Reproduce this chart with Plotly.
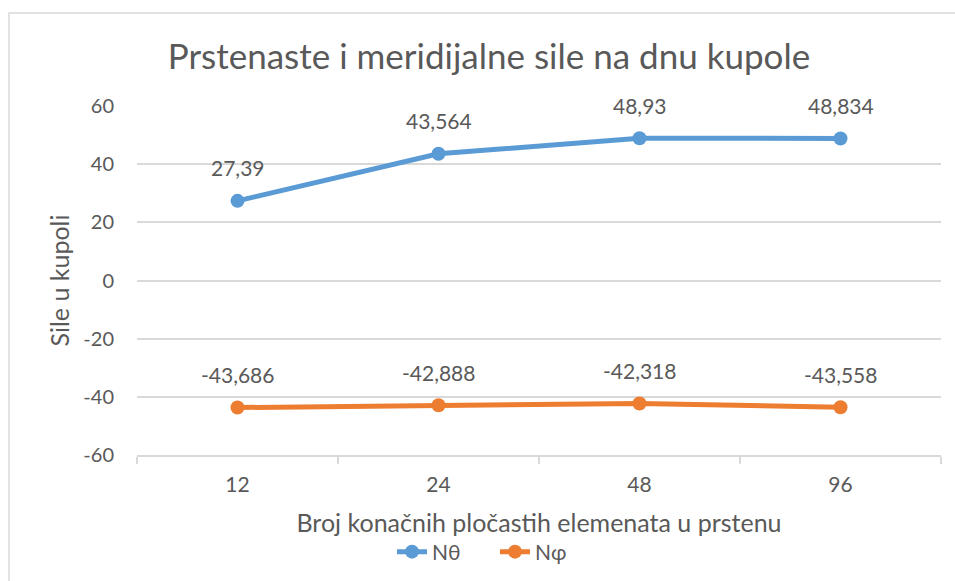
import plotly.graph_objects as go

# Chart data
categories = ["12", "24", "48", "96"]
n_theta = [27.39, 43.564, 48.93, 48.834]
n_phi = [-43.686, -42.888, -42.318, -43.558]
y_ticks = [-60, -40, -20, 0, 20, 40, 60]

W, H = 955, 581
L, R, T, B = 137, 14, 106, 126

FONT = "Lato"
GREY = "#595959"
GRID = "#d9d9d9"
COLORS = {"Nθ": "#5B9BD5", "Nφ": "#ED7D31"}


def comma(v):
    return str(v).replace(".", ",")


fig = go.Figure()
for name, values in (("Nθ", n_theta), ("Nφ", n_phi)):
    fig.add_trace(go.Scatter(
        x=categories, y=values, name=name, mode="lines+markers",
        line=dict(color=COLORS[name], width=5),
        marker=dict(size=14, color=COLORS[name]),
        cliponaxis=False,
    ))
    # value labels above each point (category axis -> position by index)
    for i, v in enumerate(values):
        fig.add_annotation(
            x=i, y=v, text=comma(v), showarrow=False, yshift=33,
            font=dict(size=21, color=GREY, family=FONT),
        )

pw, ph = W - L - R, H - T - B

# light frame around the chart area
fig.add_shape(
    type="rect", xref="paper", yref="paper",
    x0=(9 - L) / pw, x1=(W + 10 - L) / pw,
    y0=(H - B - (H + 10)) / ph, y1=(H - B - 13) / ph,
    line=dict(color=GRID, width=1.5), fillcolor="rgba(0,0,0,0)", layer="below",
)

fig.update_layout(
    width=W, height=H,
    margin=dict(l=L, r=R, t=T, b=B, autoexpand=False),
    paper_bgcolor="white", plot_bgcolor="white",
    font=dict(family=FONT, color=GREY, size=20),
    title=dict(
        text="Prstenaste i meridijalne sile na dnu kupole",
        x=489 / W, xanchor="center", y=1 - 57 / H, yanchor="middle",
        font=dict(size=35, color=GREY, family=FONT),
    ),
    showlegend=True,
    legend=dict(
        orientation="h", x=(495 - L) / pw, xanchor="center",
        y=(H - B - 552) / ph, yanchor="middle",
        font=dict(size=21, color=GREY, family=FONT),
        entrywidth=58, entrywidthmode="pixels",
    ),
    xaxis=dict(
        type="category", range=[-0.5, 3.5],
        showgrid=False, showline=True, linecolor=GRID, linewidth=1.5,
        ticks="outside", tickson="boundaries", ticklen=7, tickcolor=GRID,
        tickwidth=1.5, ticklabelstandoff=10,
        tickfont=dict(size=21, color=GREY),
        title=dict(text="Broj konačnih pločastih elemenata u prstenu",
                   font=dict(size=25, color=GREY), standoff=20),
    ),
    yaxis=dict(
        range=[-60, 60], tickvals=y_ticks,
        ticktext=[str(v) for v in y_ticks],
        showgrid=True, gridcolor=GRID, gridwidth=1.5,
        zeroline=False, showline=False,
        ticks="", ticklabelstandoff=22,
        tickfont=dict(size=20, color=GREY),
        title=dict(text="Sile u kupoli", font=dict(size=25, color=GREY),
                   standoff=6),
    ),
)

fig.write_html("out.html")
